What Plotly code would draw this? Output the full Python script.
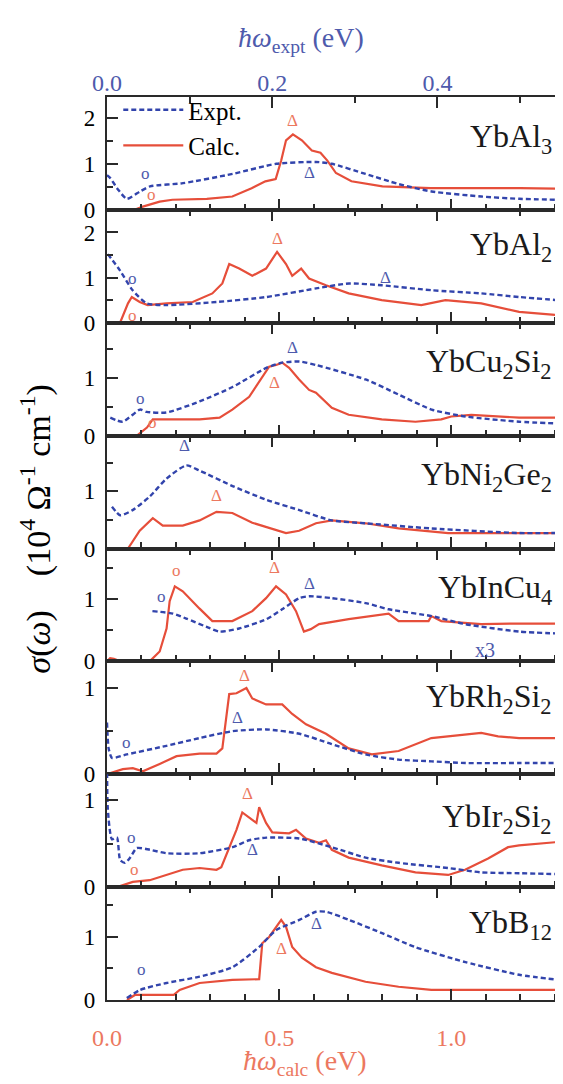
import plotly.graph_objects as go

# ---------------- data ----------------
materials = ["YbAl<sub>3</sub>", "YbAl<sub>2</sub>", "YbCu<sub>2</sub>Si<sub>2</sub>",
             "YbNi<sub>2</sub>Ge<sub>2</sub>", "YbInCu<sub>4</sub>", "YbRh<sub>2</sub>Si<sub>2</sub>",
             "YbIr<sub>2</sub>Si<sub>2</sub>", "YbB<sub>12</sub>"]
y_max = [2.45, 2.5, 1.95, 1.97, 1.82, 1.31, 1.3, 1.79]

ybal3_calc_x = [0.08, 0.104, 0.153, 0.19, 0.29, 0.364, 0.42, 0.46, 0.49, 0.506, 0.52, 0.54, 0.566, 0.595, 0.62, 0.64, 0.665, 0.71, 0.80, 0.94, 1.2, 1.31]
ybal3_calc_y = [0, 0.07, 0.18, 0.22, 0.24, 0.29, 0.47, 0.62, 0.67, 1.07, 1.51, 1.64, 1.51, 1.29, 1.24, 1.07, 0.80, 0.62, 0.51, 0.47, 0.47, 0.46]
ybal3_expt_x = [0, 0.004, 0.013, 0.024, 0.04, 0.052, 0.092, 0.152, 0.205, 0.253, 0.272, 0.313, 0.353, 0.393, 0.453, 0.499, 0.546]
ybal3_expt_y = [0.75, 0.69, 0.45, 0.24, 0.4, 0.51, 0.58, 0.78, 1.0, 1.04, 1.0, 0.78, 0.56, 0.4, 0.29, 0.24, 0.22]

ybal2_calc_x = [0.038, 0.061, 0.072, 0.095, 0.118, 0.173, 0.249, 0.306, 0.335, 0.355, 0.384, 0.422, 0.462, 0.494, 0.52, 0.538, 0.564, 0.587, 0.636, 0.702, 0.798, 0.913, 0.983, 1.087, 1.197, 1.31]
ybal2_calc_y = [0, 0.43, 0.57, 0.46, 0.39, 0.43, 0.46, 0.65, 0.87, 1.30, 1.20, 1.04, 1.20, 1.57, 1.30, 1.04, 1.20, 0.98, 0.83, 0.65, 0.50, 0.39, 0.50, 0.43, 0.24, 0.17]
ybal2_expt_x = [0.001, 0.016, 0.031, 0.048, 0.072, 0.133, 0.193, 0.253, 0.293, 0.333, 0.393, 0.453, 0.499, 0.546]
ybal2_expt_y = [1.52, 1.15, 0.72, 0.43, 0.39, 0.46, 0.57, 0.76, 0.87, 0.83, 0.72, 0.65, 0.57, 0.5]

ybcu2si2_calc_x = [0.087, 0.116, 0.133, 0.173, 0.269, 0.327, 0.364, 0.413, 0.451, 0.471, 0.491, 0.509, 0.529, 0.558, 0.587, 0.607, 0.653, 0.702, 0.798, 0.896, 0.971, 1.0, 1.058, 1.197, 1.31]
ybcu2si2_calc_y = [0, 0.14, 0.28, 0.28, 0.28, 0.31, 0.45, 0.67, 1.0, 1.19, 1.22, 1.26, 1.17, 0.97, 0.79, 0.74, 0.48, 0.36, 0.28, 0.24, 0.28, 0.33, 0.36, 0.31, 0.31]
ybcu2si2_expt_x = [0.004, 0.019, 0.04, 0.048, 0.072, 0.112, 0.152, 0.193, 0.212, 0.233, 0.253, 0.313, 0.353, 0.393, 0.434, 0.499, 0.546]
ybcu2si2_expt_y = [0.31, 0.24, 0.45, 0.41, 0.40, 0.59, 0.84, 1.17, 1.26, 1.28, 1.22, 0.97, 0.71, 0.45, 0.33, 0.24, 0.21]

ybni2ge2_calc_x = [0.061, 0.095, 0.133, 0.162, 0.22, 0.269, 0.318, 0.364, 0.422, 0.48, 0.52, 0.558, 0.607, 0.653, 0.751, 0.847, 0.991, 1.197, 1.31]
ybni2ge2_calc_y = [0, 0.31, 0.53, 0.40, 0.40, 0.49, 0.64, 0.62, 0.45, 0.35, 0.27, 0.31, 0.44, 0.49, 0.44, 0.35, 0.27, 0.27, 0.27]
ybni2ge2_expt_x = [0.006, 0.016, 0.031, 0.052, 0.072, 0.096, 0.112, 0.152, 0.193, 0.233, 0.272, 0.313, 0.393, 0.499, 0.546]
ybni2ge2_expt_y = [0.73, 0.58, 0.67, 0.91, 1.22, 1.45, 1.36, 1.09, 0.85, 0.67, 0.49, 0.44, 0.35, 0.27, 0.27]

ybincu4_calc_x = [0, 0.009, 0.02, 0.038, 0.124, 0.153, 0.173, 0.182, 0.197, 0.22, 0.269, 0.306, 0.364, 0.422, 0.462, 0.491, 0.52, 0.549, 0.572, 0.592, 0.616, 0.702, 0.818, 0.847, 0.934, 0.942, 0.971, 1.087, 1.197, 1.31]
ybincu4_calc_y = [0, 0.05, 0.04, 0, 0, 0.16, 0.53, 0.97, 1.21, 1.13, 0.85, 0.65, 0.65, 0.81, 1.02, 1.21, 1.08, 0.81, 0.48, 0.52, 0.6, 0.68, 0.77, 0.65, 0.65, 0.73, 0.65, 0.6, 0.61, 0.61]
ybincu4_expt_x = [0.055, 0.080, 0.096, 0.12, 0.136, 0.16, 0.193, 0.212, 0.233, 0.245, 0.272, 0.313, 0.341, 0.393, 0.434, 0.499, 0.546]
ybincu4_expt_y = [0.81, 0.77, 0.69, 0.56, 0.48, 0.53, 0.68, 0.84, 1.02, 1.05, 1.02, 0.94, 0.84, 0.73, 0.6, 0.48, 0.45]

ybrh2si2_calc_x = [0, 0.046, 0.075, 0.104, 0.153, 0.202, 0.269, 0.318, 0.335, 0.355, 0.376, 0.405, 0.422, 0.462, 0.509, 0.538, 0.578, 0.636, 0.702, 0.769, 0.847, 0.942, 1.087, 1.136, 1.197, 1.31]
ybrh2si2_calc_y = [0, 0.06, 0.07, 0.035, 0.12, 0.21, 0.24, 0.24, 0.30, 0.93, 0.94, 1.0, 0.88, 0.81, 0.81, 0.70, 0.58, 0.47, 0.30, 0.23, 0.27, 0.42, 0.48, 0.44, 0.42, 0.42]
ybrh2si2_expt_x = [0, 0.002, 0.006, 0.024, 0.072, 0.112, 0.152, 0.193, 0.233, 0.272, 0.313, 0.353, 0.393, 0.434, 0.499, 0.546]
ybrh2si2_expt_y = [0.6, 0.3, 0.19, 0.23, 0.33, 0.42, 0.5, 0.52, 0.47, 0.35, 0.23, 0.17, 0.15, 0.13, 0.13, 0.13]

ybir2si2_calc_x = [0.029, 0.075, 0.124, 0.173, 0.22, 0.269, 0.318, 0.332, 0.355, 0.376, 0.393, 0.422, 0.434, 0.442, 0.462, 0.48, 0.529, 0.549, 0.578, 0.616, 0.636, 0.653, 0.702, 0.798, 0.896, 0.991, 1.04, 1.107, 1.165, 1.197, 1.31]
ybir2si2_calc_y = [0, 0.06, 0.08, 0.14, 0.2, 0.22, 0.2, 0.23, 0.46, 0.66, 0.86, 0.77, 0.74, 0.92, 0.74, 0.63, 0.62, 0.66, 0.56, 0.51, 0.54, 0.43, 0.34, 0.25, 0.17, 0.14, 0.2, 0.33, 0.46, 0.48, 0.52]
ybir2si2_expt_x = [0, 0.001, 0.006, 0.012, 0.016, 0.022, 0.028, 0.036, 0.052, 0.072, 0.112, 0.152, 0.172, 0.193, 0.233, 0.272, 0.313, 0.353, 0.413, 0.453, 0.499, 0.546]
ybir2si2_expt_y = [1.5, 0.9, 0.55, 0.57, 0.31, 0.28, 0.34, 0.45, 0.43, 0.39, 0.39, 0.46, 0.54, 0.57, 0.56, 0.46, 0.34, 0.28, 0.22, 0.17, 0.16, 0.15]

ybb12_calc_x = [0.058, 0.081, 0.194, 0.211, 0.269, 0.364, 0.442, 0.451, 0.471, 0.491, 0.506, 0.52, 0.538, 0.566, 0.607, 0.653, 0.751, 0.847, 0.942, 1.197, 1.31]
ybb12_calc_y = [0, 0.08, 0.08, 0.16, 0.27, 0.32, 0.33, 0.9, 1.0, 1.16, 1.27, 1.16, 0.84, 0.67, 0.52, 0.43, 0.29, 0.21, 0.16, 0.16, 0.16]
ybb12_expt_x = [0.024, 0.04, 0.072, 0.112, 0.152, 0.184, 0.205, 0.233, 0.253, 0.265, 0.293, 0.333, 0.373, 0.434, 0.499, 0.546]
ybb12_expt_y = [0.03, 0.16, 0.27, 0.37, 0.52, 0.84, 1.11, 1.27, 1.40, 1.40, 1.27, 1.06, 0.84, 0.6, 0.4, 0.32]

calc_x = [ybal3_calc_x, ybal2_calc_x, ybcu2si2_calc_x, ybni2ge2_calc_x, ybincu4_calc_x, ybrh2si2_calc_x, ybir2si2_calc_x, ybb12_calc_x]
calc_y = [ybal3_calc_y, ybal2_calc_y, ybcu2si2_calc_y, ybni2ge2_calc_y, ybincu4_calc_y, ybrh2si2_calc_y, ybir2si2_calc_y, ybb12_calc_y]
expt_x = [ybal3_expt_x, ybal2_expt_x, ybcu2si2_expt_x, ybni2ge2_expt_x, ybincu4_expt_x, ybrh2si2_expt_x, ybir2si2_expt_x, ybb12_expt_x]
expt_y = [ybal3_expt_y, ybal2_expt_y, ybcu2si2_expt_y, ybni2ge2_expt_y, ybincu4_expt_y, ybrh2si2_expt_y, ybir2si2_expt_y, ybb12_expt_y]

# peak markers: (panel, scale, x, y, symbol)
marker_panel = [0, 0, 0, 0, 1, 1, 1, 1, 2, 2, 2, 2, 3, 3, 4, 4, 4, 4, 5, 5, 5, 5, 6, 6, 6, 6, 7, 7, 7, 7]
marker_scale = ["calc", "expt", "calc", "expt", "expt", "calc", "calc", "expt", "expt", "calc", "calc", "expt",
                "expt", "calc", "calc", "calc", "expt", "expt", "expt", "calc", "expt", "calc",
                "expt", "calc", "calc", "expt", "expt", "calc", "calc", "expt"]
marker_x = [0.13, 0.046, 0.54, 0.245, 0.031, 0.075, 0.494, 0.337, 0.04, 0.133, 0.486, 0.224,
            0.094, 0.318, 0.202, 0.486, 0.066, 0.245, 0.024, 0.399, 0.158, 0.075,
            0.03, 0.081, 0.408, 0.176, 0.042, 0.101, 0.506, 0.254]
marker_y = [0.34, 0.8, 1.95, 0.82, 0.99, 0.17, 1.87, 1.01, 0.65, 0.22, 0.91, 1.53,
            1.79, 0.93, 1.47, 1.51, 1.04, 1.26, 0.37, 1.15, 0.66, -0.03,
            0.57, 0.2, 1.08, 0.43, 0.48, -0.16, 0.82, 1.22]
marker_sym = ["o", "o", "Δ", "Δ", "o", "o", "Δ", "Δ", "o", "o", "Δ", "Δ",
              "Δ", "Δ", "o", "Δ", "o", "Δ", "o", "Δ", "Δ", "o",
              "o", "o", "Δ", "Δ", "o", "o", "Δ", "Δ"]

calc_range = [0, 1.31]
expt_range = [0, 0.546]

# ---------------- style ----------------
RED = "rgb(230,78,58)"
RED_T = "rgb(236,120,96)"
BLUE = "rgb(50,68,172)"
BLUE_T = "rgb(78,90,172)"
FRAME = "#2a2a2a"
FONT = "Liberation Serif"

N = 8
H = 1.0 / N
fig = go.Figure()

for i in range(N):
    k = i + 1
    kt = N + k
    fig.add_trace(go.Scatter(
        x=expt_x[i], y=expt_y[i], mode="lines", name="Expt.",
        xaxis=f"x{kt}", yaxis=f"y{k}", showlegend=(i == 0),
        line=dict(color=BLUE, width=2.4, dash="5px,3px", shape="spline", smoothing=0.6)))
    fig.add_trace(go.Scatter(
        x=calc_x[i], y=calc_y[i], mode="lines", name="Calc.",
        xaxis=f"x{k}", yaxis=f"y{k}", showlegend=(i == 0),
        line=dict(color=RED, width=2.2)))

# page body has an 8px margin; plot area spans x 107-560, y 97-1000 in the window
layout = dict(
    width=555, height=1076,
    margin=dict(l=99, r=3, t=89, b=84),
    paper_bgcolor="white", plot_bgcolor="white",
    font=dict(family=FONT, size=23, color="black"),
    showlegend=True,
    legend=dict(x=0.025, y=1.011, xanchor="left", yanchor="top",
                bgcolor="rgba(0,0,0,0)", font=dict(size=25, family=FONT),
                itemwidth=60, tracegroupgap=0, traceorder="normal"),
)

for i in range(N):
    k = i + 1
    kt = N + k
    dom = [1 - (i + 1) * H, 1 - i * H]
    sfx = "" if k == 1 else str(k)
    layout[f"xaxis{sfx}"] = dict(
        domain=[0, 1], anchor=f"y{k}", range=calc_range,
        showline=True, mirror=True, linecolor=FRAME, linewidth=2.2,
        showgrid=False, zeroline=False,
        ticks="inside", tick0=0, dtick=0.5, ticklen=11, tickwidth=2, tickcolor=FRAME,
        minor=dict(ticks="inside", dtick=0.1, ticklen=6, tickwidth=1.6, tickcolor=FRAME, showgrid=False),
        showticklabels=(k == N), tickformat=".1f",
        tickfont=dict(color=RED_T, size=24, family=FONT),
        ticklabelstandoff=15,
    )
    layout[f"xaxis{kt}"] = dict(
        overlaying=f"x{k}", side="top", anchor=f"y{k}", range=expt_range,
        showline=False, showgrid=False, zeroline=False,
        ticks="inside", tick0=0, dtick=0.2, ticklen=11, tickwidth=2, tickcolor=FRAME,
        minor=dict(ticks="inside", dtick=0.1, ticklen=6, tickwidth=1.6, tickcolor=FRAME, showgrid=False),
        showticklabels=(k == 1), tickformat=".1f",
        tickfont=dict(color=BLUE_T, size=24, family=FONT),
    )
    layout[f"yaxis{sfx}"] = dict(
        domain=dom, anchor=f"x{k}", range=[0, y_max[i]],
        showline=True, mirror=True, linecolor=FRAME, linewidth=2.2,
        showgrid=False, zeroline=False,
        ticks="inside", tick0=0, dtick=1, ticklen=11, tickwidth=2, tickcolor=FRAME,
        minor=dict(ticks="inside", dtick=0.5, ticklen=6, tickwidth=1.6, tickcolor=FRAME, showgrid=False),
        tickfont=dict(color="black", size=23, family=FONT),
        ticklabelstandoff=5,
    )

fig.update_layout(**layout)

# axis titles
fig.add_annotation(text="<i>ħω</i><sub>expt</sub> (eV)", xref="paper", yref="paper",
                   x=0.43, y=1.0, yshift=58, xanchor="center", yanchor="middle",
                   showarrow=False, font=dict(family=FONT, size=28, color=BLUE_T))
fig.add_annotation(text="<i>ħω</i><sub>calc</sub> (eV)", xref="paper", yref="paper",
                   x=0.44, y=0.0, yshift=-62, xanchor="center", yanchor="middle",
                   showarrow=False, font=dict(family=FONT, size=28, color=RED_T))
fig.add_annotation(text="<i>σ</i>(<i>ω</i>)    (10<sup>4</sup> Ω<sup>-1</sup> cm<sup>-1</sup>)",
                   xref="paper", yref="paper", x=0.0, xshift=-71, y=0.522,
                   textangle=-90, xanchor="center", yanchor="middle", showarrow=False,
                   font=dict(family=FONT, size=34, color="black"))

# panel labels
label_top_px = [116, 224, 341, 454, 567, 676, 796, 902]
for i, name in enumerate(materials):
    fig.add_annotation(text=name, xref="paper", yref="paper",
                       x=0.992, y=(1000 - label_top_px[i]) / 903.0,
                       xanchor="right", yanchor="top", showarrow=False,
                       font=dict(family=FONT, size=32, color="#1a1a1a"))

# peak markers
for p, s, mx, my, sym in zip(marker_panel, marker_scale, marker_x, marker_y, marker_sym):
    xr = f"x{p + 1}" if s == "calc" else f"x{N + p + 1}"
    fig.add_annotation(text=sym, xref=xr, yref=f"y{p + 1}", x=mx, y=my,
                       showarrow=False, xanchor="center", yanchor="middle",
                       font=dict(family=FONT, size=17, color=RED_T if s == "calc" else BLUE_T))

# x3 note for YbInCu4
fig.add_annotation(text="x3", xref=f"x{N + 5}", yref="y5", x=0.458, y=0.18,
                   showarrow=False, font=dict(family=FONT, size=20, color=BLUE_T))

fig.write_html("out.html")
